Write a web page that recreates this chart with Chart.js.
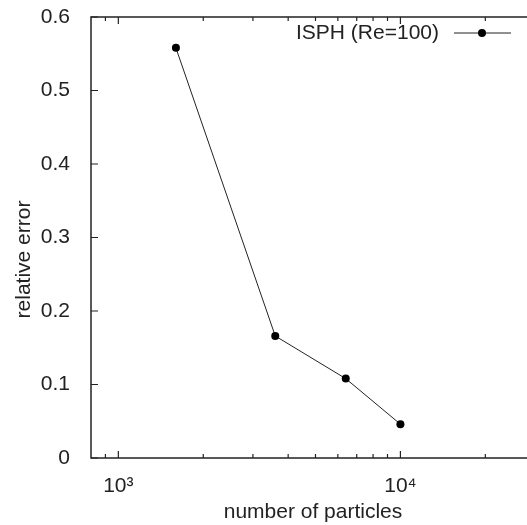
<!DOCTYPE html>
<html>
<head>
<meta charset="utf-8">
<script src="https://cdn.jsdelivr.net/npm/chart.js@4"></script>
<style>
  html, body { margin: 0; padding: 0; background: #fff; overflow: hidden; }
  #wrap { width: 545px; height: 525px; }
</style>
</head>
<body>
<div id="wrap"><canvas id="errChart" width="545" height="525"></canvas></div>
<script>
// datos
const particles = [1600, 3600, 6400, 10000];
const relError = [0.558, 0.166, 0.108, 0.046];

// ticks
const xMajorTicks = [1000, 10000];
const xTickLabels = ["10³", "10⁴"];
const xMinorTicks = [900, 2000, 3000, 4000, 5000, 6000, 7000, 8000, 9000, 20000];
const yTicks = [0, 0.1, 0.2, 0.3, 0.4, 0.5, 0.6];
const yTickLabels = ["0", "0.1", "0.2", "0.3", "0.4", "0.5", "0.6"];

const seriesLabel = "ISPH (Re=100)";
const FONT = "'Liberation Sans', Arial, Helvetica, sans-serif";
const INK = "#222";

// borde tipo gnuplot con ticks hacia adentro
const framePlugin = {
  id: "frame",
  beforeDatasetsDraw(chart) {
    const { ctx, chartArea, scales } = chart;
    const { left, right, top, bottom } = chartArea;
    ctx.save();
    ctx.strokeStyle = INK;
    ctx.lineWidth = 1.5;
    ctx.strokeRect(left, top, right - left, bottom - top);

    ctx.lineWidth = 1.2;
    ctx.beginPath();
    xMajorTicks.forEach((v) => {
      const px = scales.x.getPixelForValue(v);
      ctx.moveTo(px, bottom); ctx.lineTo(px, bottom - 7);
      ctx.moveTo(px, top); ctx.lineTo(px, top + 7);
    });
    xMinorTicks.forEach((v) => {
      const px = scales.x.getPixelForValue(v);
      ctx.moveTo(px, bottom); ctx.lineTo(px, bottom - 4);
      ctx.moveTo(px, top); ctx.lineTo(px, top + 4);
    });
    yTicks.forEach((v) => {
      const py = scales.y.getPixelForValue(v);
      ctx.moveTo(left, py); ctx.lineTo(left + 7, py);
      ctx.moveTo(right, py); ctx.lineTo(right - 7, py);
    });
    ctx.stroke();
    ctx.restore();
  },
  afterDraw(chart) {
    const { ctx, chartArea } = chart;
    const { right, top, bottom } = chartArea;
    ctx.save();
    ctx.fillStyle = INK;

    // titulo eje Y
    ctx.save();
    ctx.translate(24, (top + bottom) / 2 + 22);
    ctx.rotate(-Math.PI / 2);
    ctx.font = "21px " + FONT;
    ctx.textAlign = "center";
    ctx.textBaseline = "middle";
    ctx.fillText("relative error", 0, 0);
    ctx.restore();

    // leyenda dentro del area
    const ly = top + 16;
    ctx.font = "21px " + FONT;
    ctx.textAlign = "right";
    ctx.textBaseline = "middle";
    ctx.fillText(seriesLabel, right - 96, ly);
    ctx.strokeStyle = INK;
    ctx.lineWidth = 1;
    ctx.beginPath();
    ctx.moveTo(right - 81, ly);
    ctx.lineTo(right - 24, ly);
    ctx.stroke();
    ctx.beginPath();
    ctx.arc(right - 53, ly, 4, 0, Math.PI * 2);
    ctx.fillStyle = "#000";
    ctx.fill();
    ctx.restore();
  },
};

const ctx = document.getElementById("errChart").getContext("2d");
new Chart(ctx, {
  type: "line",
  data: {
    datasets: [
      {
        label: seriesLabel,
        data: particles.map((n, i) => ({ x: n, y: relError[i] })),
        borderColor: INK,
        borderWidth: 1,
        pointRadius: 4,
        pointBackgroundColor: "#000",
        pointBorderWidth: 0,
        tension: 0,
      },
    ],
  },
  options: {
    responsive: false,
    animation: false,
    layout: { padding: { top: 17, right: 10, left: 0, bottom: 0 } },
    plugins: {
      legend: { display: false },
      tooltip: { enabled: false },
    },
    scales: {
      x: {
        type: "logarithmic",
        min: 800,
        max: 30000,
        grid: { display: false },
        border: { display: false },
        afterBuildTicks: (scale) => {
          scale.ticks = xMajorTicks.map((v) => ({ value: v }));
        },
        afterFit: (scale) => {
          scale.height = 67;
          scale.paddingLeft = 0;
          scale.paddingRight = 0;
        },
        ticks: {
          autoSkip: false,
          maxRotation: 0,
          padding: 8,
          color: INK,
          font: { family: FONT, size: 21 },
          callback: function (value, index) {
            return xTickLabels[index];
          },
        },
        title: {
          display: true,
          text: "number of particles",
          color: INK,
          font: { family: FONT, size: 21 },
          padding: { top: 0, bottom: 0 },
        },
      },
      y: {
        type: "linear",
        min: 0,
        max: 0.6,
        grid: { display: false },
        border: { display: false },
        afterBuildTicks: (scale) => {
          scale.ticks = yTicks.map((v) => ({ value: v }));
        },
        afterFit: (scale) => {
          scale.width = 91;
          scale.paddingTop = 0;
          scale.paddingBottom = 0;
        },
        ticks: {
          padding: 13,
          color: INK,
          font: { family: FONT, size: 21 },
          callback: function (value, index) {
            return yTickLabels[index];
          },
        },
      },
    },
  },
  plugins: [framePlugin],
});
</script>
</body>
</html>
